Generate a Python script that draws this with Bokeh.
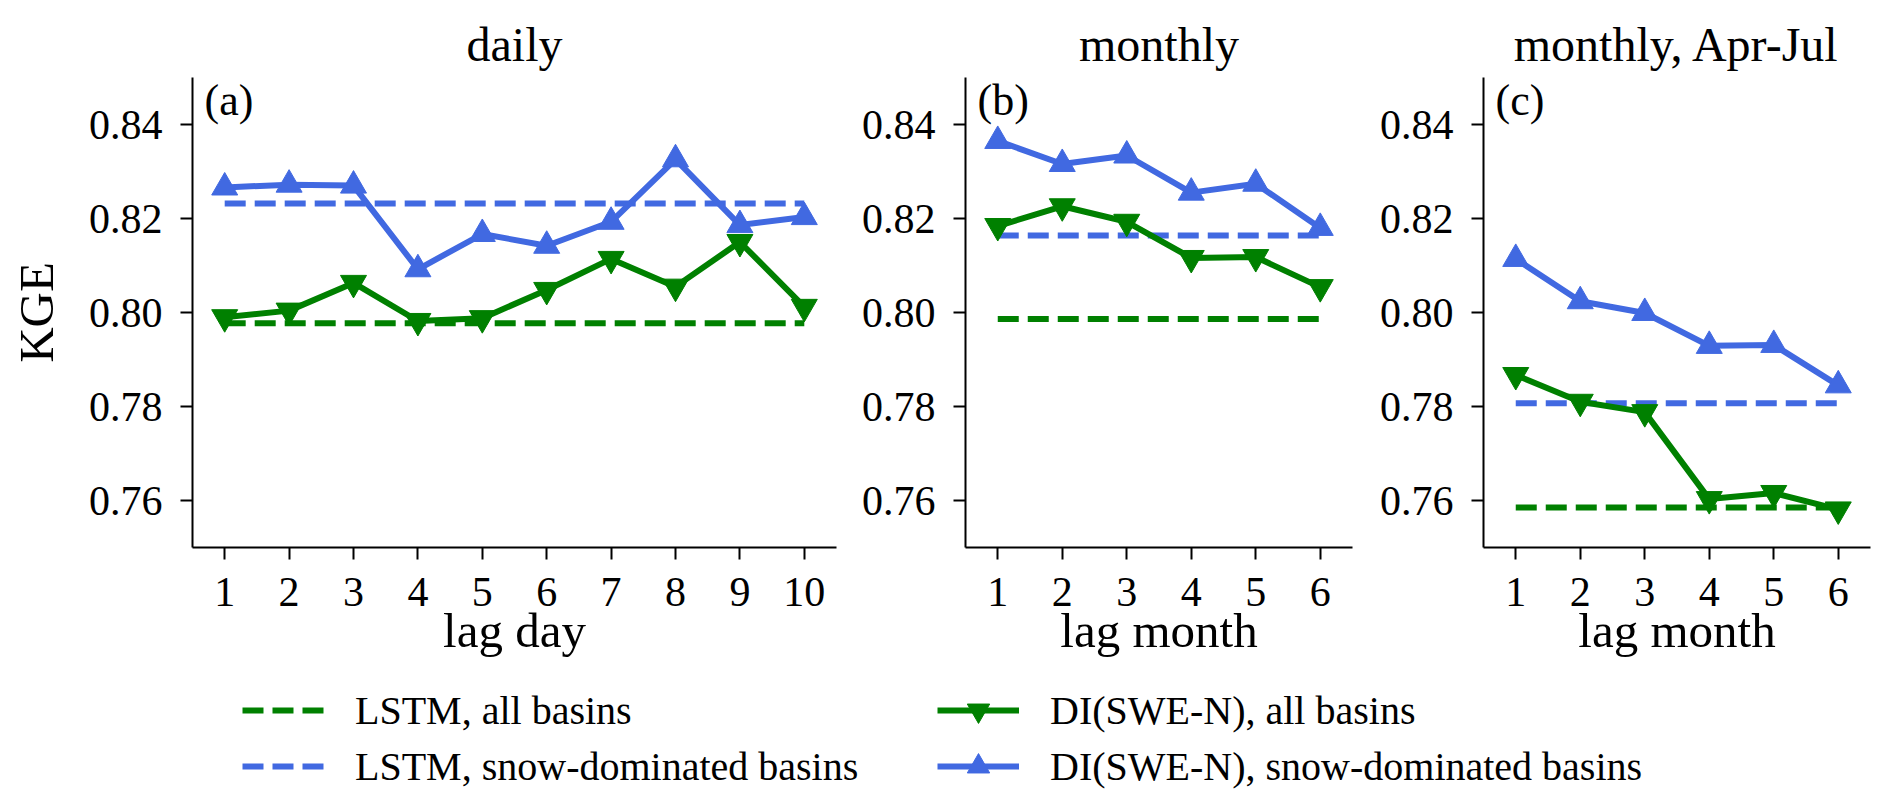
from bokeh.plotting import figure
from bokeh.models import Range1d, FixedTicker, PrintfTickFormatter, Label, Legend, LegendItem
from bokeh.layouts import column, row
from bokeh.embed import file_html
from bokeh.resources import INLINE

FONT = "Liberation Serif"
GREEN = "#008000"
BLUE = "#4169E1"
NAN = float("nan")

# ---------------- data ----------------
panel_titles = ["daily", "monthly", "monthly, Apr-Jul"]
panel_letters = ["(a)", "(b)", "(c)"]
x_labels = ["lag day", "lag month", "lag month"]
y_label = "KGE"
y_ticks = [0.76, 0.78, 0.80, 0.82, 0.84]
y_limits = (0.75, 0.85)

legend_labels = ["LSTM, all basins", "LSTM, snow-dominated basins",
                 "DI(SWE-N), all basins", "DI(SWE-N), snow-dominated basins"]

lag_day = [1, 2, 3, 4, 5, 6, 7, 8, 9, 10]
daily_di_all = [0.7990, 0.8004, 0.8063, 0.7982, 0.7988, 0.8048, 0.8114, 0.8055, 0.8150, 0.8012]
daily_di_snow = [0.8266, 0.8272, 0.8270, 0.8092, 0.8167, 0.8142, 0.8193, 0.8326, 0.8186, 0.8203]
daily_lstm_all = 0.7977
daily_lstm_snow = 0.8232

lag_month = [1, 2, 3, 4, 5, 6]
monthly_di_all = [0.8184, 0.8226, 0.8193, 0.8116, 0.8118, 0.8054]
monthly_di_snow = [0.8365, 0.8316, 0.8334, 0.8255, 0.8274, 0.8180]
monthly_lstm_all = 0.7986
monthly_lstm_snow = 0.8164

aprjul_di_all = [0.7867, 0.7810, 0.7788, 0.7603, 0.7616, 0.7581]
aprjul_di_snow = [0.8114, 0.8024, 0.7999, 0.7929, 0.7931, 0.7845]
aprjul_lstm_all = 0.7585
aprjul_lstm_snow = 0.7807

panels = [
    (lag_day, daily_di_all, daily_di_snow, daily_lstm_all, daily_lstm_snow),
    (lag_month, monthly_di_all, monthly_di_snow, monthly_lstm_all, monthly_lstm_snow),
    (lag_month, aprjul_di_all, aprjul_di_snow, aprjul_lstm_all, aprjul_lstm_snow),
]

# layout (width, min_border_left, min_border_right)
geom = [(850, 192, 14), (515, 115, 13), (519, 118, 14)]
FIG_H = 670
BORDER_TOP = 77
BORDER_BOTTOM = 123

LW = 6
DASH = "21 9"
MS = 26

figs = []
for i, (lags, di_all, di_snow, lstm_all, lstm_snow) in enumerate(panels):
    w, bl, br = geom[i]
    x_lo, x_hi = lags[0] - 0.5, lags[-1] + 0.5
    p = figure(width=w, height=FIG_H, output_backend="svg", toolbar_location=None,
               x_range=Range1d(x_lo, x_hi), y_range=Range1d(*y_limits),
               min_border_left=bl, min_border_right=br,
               min_border_top=BORDER_TOP, min_border_bottom=BORDER_BOTTOM)
    p.outline_line_color = None
    p.grid.visible = False
    p.background_fill_color = "white"
    p.border_fill_color = "white"

    p.title.text = panel_titles[i]
    p.title.align = "center"
    p.title.text_font = FONT
    p.title.text_font_size = "48px"
    p.title.text_font_style = "normal"
    p.title.text_color = "black"
    p.title.standoff = 13

    p.xaxis.ticker = FixedTicker(ticks=lags)
    p.yaxis.ticker = FixedTicker(ticks=y_ticks)
    p.yaxis.formatter = PrintfTickFormatter(format="%.2f")
    p.xaxis.axis_label = x_labels[i]
    if i == 0:
        p.yaxis.axis_label = y_label
    for ax in p.axis:
        ax.major_label_text_font = FONT
        ax.major_label_text_font_size = "42px"
        ax.major_label_text_color = "black"
        ax.axis_label_text_font = FONT
        ax.axis_label_text_font_size = "49px"
        ax.axis_label_text_font_style = "normal"
        ax.axis_label_text_color = "black"
        ax.major_tick_out = 12
        ax.major_tick_in = 0
        ax.minor_tick_out = 0
        ax.minor_tick_in = 0
        ax.axis_line_width = 2
        ax.axis_line_color = "black"
        ax.major_tick_line_width = 2
        ax.major_tick_line_color = "black"
    p.xaxis.major_label_standoff = 18
    p.yaxis.major_label_standoff = 18
    p.xaxis.axis_label_standoff = -6
    p.yaxis.axis_label_standoff = 22

    # LSTM baselines
    p.line([lags[0], lags[-1]], [lstm_all, lstm_all], line_color=GREEN, line_width=LW, line_dash=DASH)
    p.line([lags[0], lags[-1]], [lstm_snow, lstm_snow], line_color=BLUE, line_width=LW, line_dash=DASH)
    # DI lines
    p.line(lags, di_all, line_color=GREEN, line_width=LW, line_join="round")
    p.scatter(lags, di_all, marker="inverted_triangle", size=MS, fill_color=GREEN, line_color=GREEN)
    p.line(lags, di_snow, line_color=BLUE, line_width=LW, line_join="round")
    p.scatter(lags, di_snow, marker="triangle", size=MS, fill_color=BLUE, line_color=BLUE)

    p.add_layout(Label(x=x_lo, y=y_limits[1], x_offset=12, y_offset=2, text=panel_letters[i],
                       text_baseline="top", text_align="left", text_font=FONT,
                       text_font_size="44px", text_color="black"))
    figs.append(p)

# ---------------- legend figure ----------------
leg = figure(width=sum(g[0] for g in geom), height=130, output_backend="svg", toolbar_location=None,
             x_range=Range1d(0, 1), y_range=Range1d(0, 1),
             min_border=0, min_border_left=0, min_border_right=0, min_border_top=0, min_border_bottom=0)
leg.axis.visible = False
leg.grid.visible = False
leg.outline_line_color = None

# legend stand-ins (no visible data)
r_lstm_all = leg.line([NAN], [NAN], line_color=GREEN, line_width=LW, line_dash=DASH)
r_lstm_snow = leg.line([NAN], [NAN], line_color=BLUE, line_width=LW, line_dash=DASH)
r_di_all_l = leg.line([NAN], [NAN], line_color=GREEN, line_width=LW)
r_di_all_m = leg.scatter([NAN], [NAN], marker="inverted_triangle", size=MS, fill_color=GREEN, line_color=GREEN)
r_di_snow_l = leg.line([NAN], [NAN], line_color=BLUE, line_width=LW)
r_di_snow_m = leg.scatter([NAN], [NAN], marker="triangle", size=MS, fill_color=BLUE, line_color=BLUE)

def make_legend(items, loc):
    lg = Legend(items=items, location=loc, orientation="vertical")
    lg.label_text_font = FONT
    lg.label_text_font_size = "40px"
    lg.label_text_color = "black"
    lg.glyph_width = 82
    lg.glyph_height = 56
    lg.label_height = 56
    lg.label_standoff = 31
    lg.spacing = 0
    lg.padding = 0
    lg.margin = 0
    lg.border_line_color = None
    lg.background_fill_alpha = 0
    return lg

leg.add_layout(make_legend([LegendItem(label=legend_labels[0], renderers=[r_lstm_all], index=0),
                            LegendItem(label=legend_labels[1], renderers=[r_lstm_snow], index=0)], (242, 6)))
leg.add_layout(make_legend([LegendItem(label=legend_labels[2], renderers=[r_di_all_l, r_di_all_m], index=0),
                            LegendItem(label=legend_labels[3], renderers=[r_di_snow_l, r_di_snow_m], index=0)], (937, 6)))

layout = column(row(*figs), leg)
open("out.html", "w").write(file_html(layout, INLINE))
